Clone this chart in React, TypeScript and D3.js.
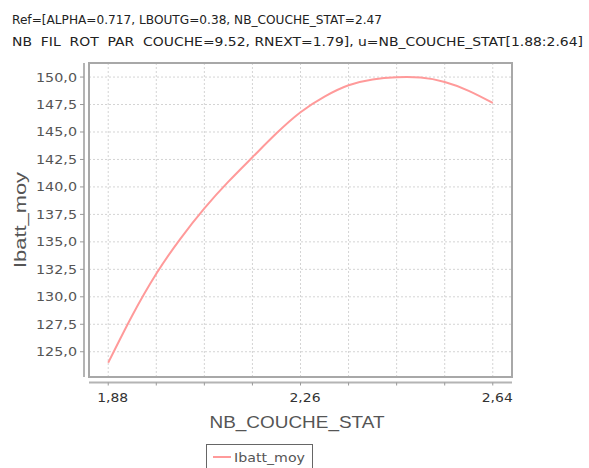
import React from "react";
import * as d3 from "d3";

const titleLines = [
  "Ref=[ALPHA=0.717, LBOUTG=0.38, NB_COUCHE_STAT=2.47",
  "NB  FIL  ROT  PAR  COUCHE=9.52, RNEXT=1.79], u=NB_COUCHE_STAT[1.88:2.64]",
];
const xLabel = "NB_COUCHE_STAT";
const yLabel = "Ibatt_moy";
const seriesName = "Ibatt_moy";

const xValues = [1.88, 1.9275, 1.975, 2.0225, 2.07, 2.1175, 2.165, 2.2125, 2.26, 2.3075, 2.355, 2.4025, 2.45, 2.4975, 2.545, 2.5925, 2.64];
const yValues = [124.0, 128.3, 132.1, 135.28, 138.05, 140.48, 142.7, 144.88, 146.8, 148.22, 149.25, 149.78, 149.98, 149.95, 149.55, 148.75, 147.65];

const xTickLabels = [1.88, 2.26, 2.64];
const xMinorTicks = [1.88, 1.975, 2.07, 2.165, 2.26, 2.355, 2.45, 2.545, 2.64];
const yTicks = [125, 127.5, 130, 132.5, 135, 137.5, 140, 142.5, 145, 147.5, 150];

const W = 589;
const H = 468;
const plot = { left: 89, right: 512, top: 63, bottom: 377 };

export default function App() {
  const xMin = d3.min(xValues)!;
  const xMax = d3.max(xValues)!;
  const yMin = d3.min(yValues)!;
  const yMax = d3.max(yValues)!;
  const xPad = (xMax - xMin) * 0.05;
  const yPad = (yMax - yMin) * 0.05;
  const x = d3.scaleLinear().domain([xMin - xPad, xMax + xPad]).range([plot.left, plot.right]);
  const y = d3.scaleLinear().domain([yMin - yPad, yMax + yPad]).range([plot.bottom, plot.top]);

  const data = xValues.map((v, i) => [v, yValues[i]] as [number, number]);
  const line = d3
    .line<[number, number]>()
    .x((d) => x(d[0]))
    .y((d) => y(d[1]))
    .curve(d3.curveNatural);

  const fmtY = (v: number) => v.toFixed(1).replace(".", ",");
  const fmtX = (v: number) => v.toFixed(2).replace(".", ",");

  const yAxisX = 84;
  const xAxisY = 382.5;

  return (
    <svg
      width={W}
      height={H}
      style={{ position: "absolute", left: 0, top: 0, background: "#fff" }}
      fontFamily="'DejaVu Sans', Verdana, sans-serif"
    >
      <rect x={0} y={0} width={W} height={H} fill="#fff" />
      {/* title */}
      <text x={12} y={24} fontSize={12} fill="#222" textLength={370} lengthAdjust="spacingAndGlyphs">
        {titleLines[0]}
      </text>
      <text x={12} y={46} fontSize={12} fill="#222" textLength={571} lengthAdjust="spacingAndGlyphs" style={{ whiteSpace: "pre" }}>
        {titleLines[1]}
      </text>

      {/* grid */}
      {xMinorTicks.map((t) => (
        <line key={"gx" + t} x1={x(t)} x2={x(t)} y1={plot.top} y2={plot.bottom} stroke="#d4d4d4" strokeWidth={1} strokeDasharray="2,2" />
      ))}
      {yTicks.map((t) => (
        <line key={"gy" + t} x1={plot.left} x2={plot.right} y1={y(t)} y2={y(t)} stroke="#d4d4d4" strokeWidth={1} strokeDasharray="2,2" />
      ))}

      {/* plot frame */}
      <rect x={plot.left} y={plot.top} width={plot.right - plot.left} height={plot.bottom - plot.top} fill="none" stroke="#a8a8a8" strokeWidth={2} />

      {/* series */}
      <path d={line(data) || ""} fill="none" stroke="#ff9a9a" strokeWidth={2} />

      {/* y axis */}
      <line x1={yAxisX} x2={yAxisX} y1={plot.top} y2={plot.bottom} stroke="#b4b4b4" strokeWidth={2} />
      {yTicks.map((t) => (
        <g key={"yt" + t}>
          <line x1={yAxisX - 4} x2={yAxisX} y1={y(t)} y2={y(t)} stroke="#999" strokeWidth={1} />
          <text x={77} y={y(t) + 4.5} fontSize={12.5} fill="#555" textAnchor="end" textLength={41} lengthAdjust="spacingAndGlyphs">
            {fmtY(t)}
          </text>
        </g>
      ))}

      {/* x axis */}
      <line x1={plot.left} x2={plot.right} y1={xAxisY} y2={xAxisY} stroke="#b4b4b4" strokeWidth={2} />
      {xMinorTicks.map((t) => (
        <line key={"xt" + t} x1={x(t)} x2={x(t)} y1={xAxisY} y2={xAxisY + 3} stroke="#999" strokeWidth={1} />
      ))}
      {xTickLabels.map((t) => (
        <text key={"xl" + t} x={x(t) + 4.5} y={402} fontSize={12.5} fill="#333" textAnchor="middle" textLength={31} lengthAdjust="spacingAndGlyphs">
          {fmtX(t)}
        </text>
      ))}

      {/* axis titles */}
      <text x={297} y={428} fontSize={17} fill="#555" textAnchor="middle" fontFamily="'Liberation Sans', Arial, sans-serif" textLength={175} lengthAdjust="spacingAndGlyphs">
        {xLabel}
      </text>
      <text
        transform="translate(26,220) rotate(-90)"
        fontSize={17}
        fill="#555"
        textAnchor="middle"
        fontFamily="'Liberation Sans', Arial, sans-serif"
        textLength={96}
        lengthAdjust="spacingAndGlyphs"
      >
        {yLabel}
      </text>

      {/* legend */}
      <rect x={206.5} y={444.5} width={106} height={30} fill="#fff" stroke="#666" strokeWidth={1} />
      <line x1={213} x2={231} y1={457} y2={457} stroke="#ff9a9a" strokeWidth={2} />
      <text x={234} y={462} fontSize={13} fill="#555" textLength={71} lengthAdjust="spacingAndGlyphs">
        {seriesName}
      </text>
    </svg>
  );
}
